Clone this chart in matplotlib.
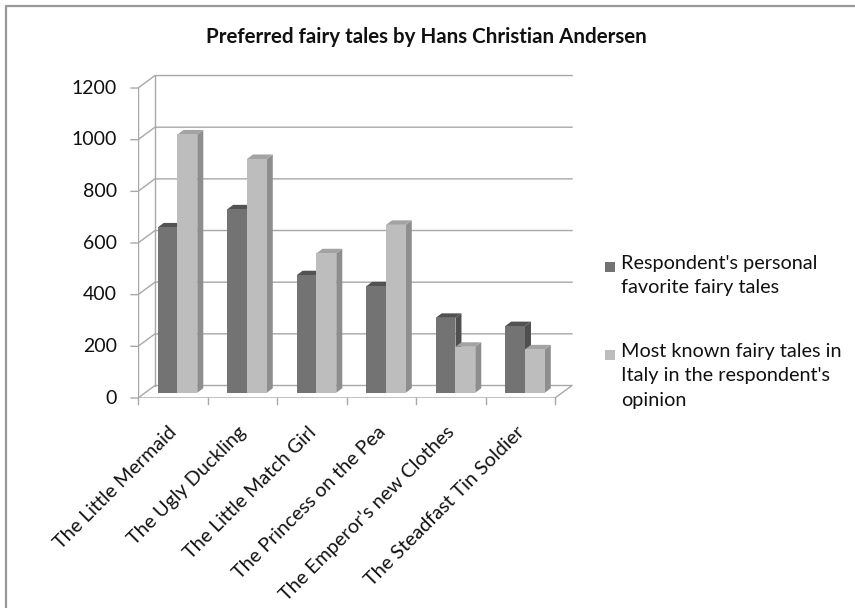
import matplotlib
matplotlib.use('Agg')
import matplotlib.pyplot as plt
from matplotlib.patches import Polygon, Rectangle
from matplotlib.lines import Line2D

plt.rcParams['font.family'] = ['Lato', 'DejaVu Sans']

# data
tales = ['The Little Mermaid', 'The Ugly Duckling', 'The Little Match Girl',
         'The Princess on the Pea', "The Emperor's new Clothes", 'The Steadfast Tin Soldier']
personal = [640, 710, 455, 412, 290, 258]
known = [1000, 905, 540, 650, 178, 168]
series_names = ["Respondent's personal\nfavorite fairy tales",
                "Most known fairy tales in\nItaly in the respondent's\nopinion"]
y_ticks = [0, 200, 400, 600, 800, 1000, 1200]
title = 'Preferred fairy tales by Hans Christian Andersen'

W, H = 855, 608
fig = plt.figure(figsize=(W / 100, H / 100), dpi=100)

# pixel box of the "3d" plot area, front plane at x0/y0
X0, X1, Y0, Y1 = 138, 572, 398, 75
PX_CAT, PX_VAL = 69.5, 0.2583
ax = fig.add_axes([X0 / W, 1 - Y0 / H, (X1 - X0) / W, (Y0 - Y1) / H])
ax.set_xlim(0, (X1 - X0) / PX_CAT)
ax.set_ylim(0, (Y0 - Y1) / PX_VAL)
ax.axis('off')

DX, DY = 17 / PX_CAT, 12.5 / PX_VAL   # wall depth
n = len(tales)
gc = '#a8a8a8'

# walls and gridlines
for v in y_ticks:
    ax.plot([-0.1, 0, DX, n + DX], [v, v, v + DY, v + DY], color=gc, lw=1, clip_on=False)
    ax.text(-0.3, v, str(v), ha='right', va='center', fontsize=14, color='#111111')
ax.plot([0, 0], [0, y_ticks[-1]], color=gc, lw=1)
ax.plot([DX, DX], [DY, y_ticks[-1] + DY], color=gc, lw=1)
ax.plot([0, n, n + DX], [0, 0, DY], color=gc, lw=1)
for i in range(n + 1):
    ax.plot([i, i], [0, -22], color=gc, lw=1, clip_on=False)


def box(x0, w, h, face, top, side):
    f = 0.42
    b = f * DY
    bdx, bdy = 6 / PX_CAT, 4.5 / PX_VAL
    ax.add_patch(Polygon([(x0 + w, b), (x0 + w + bdx, b + bdy), (x0 + w + bdx, b + h + bdy),
                          (x0 + w, b + h)], closed=True, fc=side, ec='none', zorder=3))
    ax.add_patch(Polygon([(x0, b + h), (x0 + w, b + h), (x0 + w + bdx, b + h + bdy),
                          (x0 + bdx, b + h + bdy)], closed=True, fc=top, ec='none', zorder=3))
    ax.add_patch(Rectangle((x0, b), w, h, fc=face, ec='none', zorder=3))


bw = 0.285
for i in range(n):
    box(i + 0.283, bw, personal[i], '#737373', '#525252', '#4f4f4f')
    box(i + 0.283 + bw, bw, known[i], '#bdbdbd', '#a3a3a3', '#8e8e8e')

for i, name in enumerate(tales):
    ax.text(i + 0.52, -122, name, rotation=45, rotation_mode='anchor',
            ha='right', va='center', fontsize=14.2, color='#111111', clip_on=False)

# title
fig.text(426 / W, 1 - 37 / H, title, ha='center', va='center', fontsize=14.8,
         fontweight='bold', color='#111111')

# legend
leg_colors = ['#737373', '#bdbdbd']
leg_first = [267, 355]
for name, c, y in zip(series_names, leg_colors, leg_first):
    fig.add_artist(Rectangle((605 / W, 1 - (y + 5) / H), 10 / W, 10 / H,
                             transform=fig.transFigure, fc=c, ec='none'))
    fig.text(621 / W, 1 - (y - 12) / H, name, ha='left', va='top', fontsize=14.3,
             linespacing=1.52, color='#111111')

# border of the chart area
fig.add_artist(Line2D([6 / W, 6 / W, 1], [0, 1 - 6 / H, 1 - 6 / H],
                      transform=fig.transFigure, color='#999999', lw=1.6))

fig.savefig('out.png', dpi=100)
